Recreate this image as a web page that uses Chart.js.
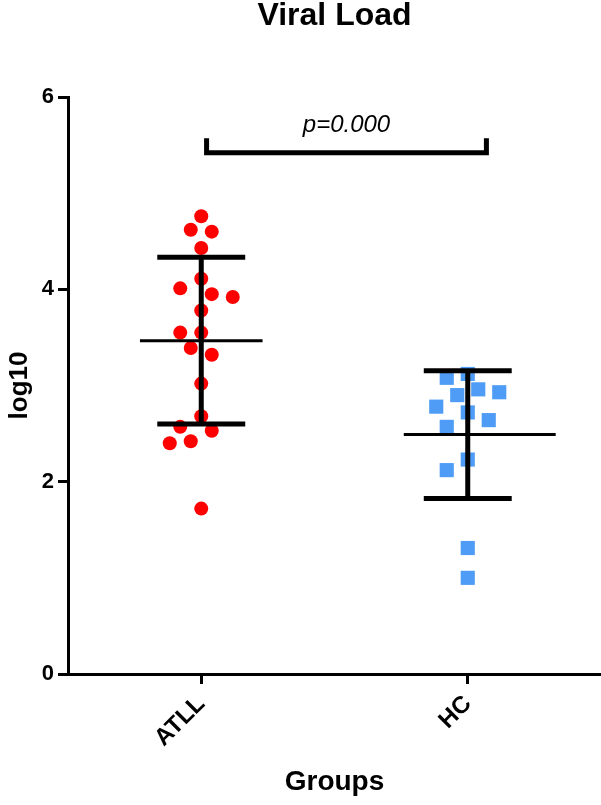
<!DOCTYPE html>
<html>
<head>
<meta charset="utf-8">
<script src="https://cdn.jsdelivr.net/npm/chart.js@4.4.1/dist/chart.umd.min.js"></script>
<style>
  body { margin: 0; background: #fff; }
  #wrap { width: 601px; height: 805px; position: relative; }
</style>
</head>
<body>
<div id="wrap"><canvas id="viralChart"></canvas></div>
<script>
// groups on the x axis
const groups = ['ATLL', 'HC'];
// log10 viral load
const atllValues = [4.76, 4.62, 4.60, 4.43, 4.11, 4.01, 3.95, 3.92, 3.78, 3.55,
                    3.55, 3.39, 3.32, 3.02, 2.68, 2.57, 2.53, 2.42, 2.40, 1.72];
const hcValues = [3.12, 3.08, 2.96, 2.93, 2.90, 2.78, 2.72, 2.64, 2.57, 2.23,
                  2.12, 1.31, 1.00];
const yTicks = [0, 2, 4, 6];
const pText = 'p=0.000';

const FONT = "'Liberation Sans', Arial, sans-serif";

function mean(arr) {
    return arr.reduce((s, v) => s + v, 0) / arr.length;
}
function sd(arr) {
    const m = mean(arr);
    return Math.sqrt(arr.reduce((s, v) => s + (v - m) * (v - m), 0) / (arr.length - 1));
}

// mean line + SD error bar for one group (gaps split the segments)
function meanLine(values, cx, left, right) {
    const m = mean(values);
    return [{x: cx - left, y: m}, {x: cx + right, y: m}, {x: cx, y: null}];
}
function sdBar(values, cx, cap) {
    const m = mean(values), s = sd(values);
    return [
        {x: cx - cap, y: m + s}, {x: cx + cap, y: m + s}, {x: cx, y: null},
        {x: cx, y: m + s}, {x: cx, y: m - s}, {x: cx, y: null},
        {x: cx - cap, y: m - s}, {x: cx + cap, y: m - s}, {x: cx, y: null}
    ];
}

// simple beeswarm: spread overlapping markers sideways
function swarm(values, center, chart, minDist, step) {
    const xs = chart.scales.x, ys = chart.scales.y;
    const pxPerX = xs.getPixelForValue(1) - xs.getPixelForValue(0);
    const placed = [];
    const out = new Array(values.length);
    const order = values.map((v, i) => i).sort((a, b) => values[b] - values[a]);
    for (const i of order) {
        const py = ys.getPixelForValue(values[i]);
        for (let k = 0; k < 40; k++) {
            const slot = k === 0 ? 0 : (k % 2 ? -Math.ceil(k / 2) : Math.ceil(k / 2));
            const px = slot * step;
            if (placed.every(p => Math.hypot(p.x - px, p.y - py) >= minDist)) {
                placed.push({x: px, y: py});
                out[i] = center + px / pxPerX;
                break;
            }
        }
    }
    return out;
}

// p value label above the bracket
const pLabel = {
    id: 'pLabel',
    afterDatasetsDraw(chart) {
        const {ctx, scales: {x, y}} = chart;
        ctx.save();
        ctx.font = "italic 24px " + FONT;
        ctx.fillStyle = '#000';
        ctx.textAlign = 'center';
        ctx.textBaseline = 'middle';
        ctx.fillText(pText, (x.getPixelForValue(1.02) + x.getPixelForValue(2.07)) / 2, y.getPixelForValue(5.71));
        ctx.restore();
    }
};

const ctx = document.getElementById('viralChart').getContext('2d');
const chart = new Chart(ctx, {
    type: 'scatter',
    data: {
        datasets: [
            {
                label: 'mean',
                data: meanLine(atllValues, 1, 0.23, 0.23).concat(meanLine(hcValues, 2, 0.24, 0.33)),
                showLine: true,
                borderColor: '#000',
                borderWidth: 3,
                pointRadius: 0,
                order: 0
            },
            {
                label: 'sd',
                data: sdBar(atllValues, 1, 0.165).concat(sdBar(hcValues, 2, 0.165)),
                showLine: true,
                borderColor: '#000',
                borderWidth: 5,
                borderCapStyle: 'butt',
                pointRadius: 0,
                order: 0
            },
            {
                label: 'bracket',
                data: [{x: 1.02, y: 5.57}, {x: 1.02, y: 5.42}, {x: 2.07, y: 5.42}, {x: 2.07, y: 5.57}],
                showLine: true,
                borderColor: '#000',
                borderWidth: 5,
                borderJoinStyle: 'miter',
                pointRadius: 0,
                order: 0
            },
            {
                label: 'ATLL',
                data: atllValues.map(v => ({x: 1, y: v})),
                pointStyle: 'circle',
                pointRadius: 7,
                backgroundColor: '#ff0000',
                borderWidth: 0,
                order: 1
            },
            {
                label: 'HC',
                data: hcValues.map(v => ({x: 2, y: v})),
                pointStyle: 'rect',
                pointRadius: 10,
                backgroundColor: '#4e9cf5',
                borderWidth: 0,
                order: 1
            }
        ]
    },
    options: {
        responsive: true,
        maintainAspectRatio: false,
        animation: false,
        layout: { padding: 0, autoPadding: false },
        plugins: {
            legend: { display: false },
            tooltip: { enabled: false },
            title: {
                display: true,
                fullSize: false,
                text: 'Viral Load',
                color: '#000',
                font: { family: FONT, size: 32, weight: 'bold', lineHeight: 1 },
                padding: { top: 0, bottom: 65 }
            }
        },
        scales: {
            x: {
                type: 'linear',
                min: 0.5,
                max: 2.5,
                afterBuildTicks: (scale) => { scale.ticks = [{value: 1}, {value: 2}]; },
                afterFit: (scale) => { scale.height = 131; },
                ticks: {
                    callback: (v) => groups[Math.round(v) - 1],
                    minRotation: 45,
                    maxRotation: 45,
                    padding: 6,
                    color: '#000',
                    font: { family: FONT, size: 24, weight: 'bold' }
                },
                grid: {
                    drawOnChartArea: false,
                    tickLength: 10,
                    tickWidth: 3,
                    color: '#000'
                },
                border: { color: '#000', width: 3 },
                title: {
                    display: true,
                    text: 'Groups',
                    color: '#000',
                    font: { family: FONT, size: 28, weight: 'bold', lineHeight: 1 },
                    padding: { top: 0, bottom: 9 }
                }
            },
            y: {
                min: 0,
                max: 6,
                afterBuildTicks: (scale) => { scale.ticks = yTicks.map(v => ({value: v})); },
                afterFit: (scale) => { scale.width = 68; },
                ticks: {
                    padding: 4,
                    color: '#000',
                    font: { family: FONT, size: 22, weight: 'bold' }
                },
                grid: {
                    drawOnChartArea: false,
                    tickLength: 10,
                    tickWidth: 3,
                    color: '#000'
                },
                border: { color: '#000', width: 3 },
                title: {
                    display: true,
                    text: 'log10',
                    color: '#000',
                    font: { family: FONT, size: 26, weight: 'bold', lineHeight: 1 },
                    padding: { top: 7, bottom: 0 }
                }
            }
        }
    },
    plugins: [pLabel]
});

// spread the points once the scales are known
const atllX = swarm(atllValues, 1, chart, 17, 10.5);
const hcX = swarm(hcValues, 2, chart, 18, 10.5);
chart.data.datasets[3].data = atllValues.map((v, i) => ({x: atllX[i], y: v}));
chart.data.datasets[4].data = hcValues.map((v, i) => ({x: hcX[i], y: v}));
chart.update('none');
</script>
</body>
</html>
